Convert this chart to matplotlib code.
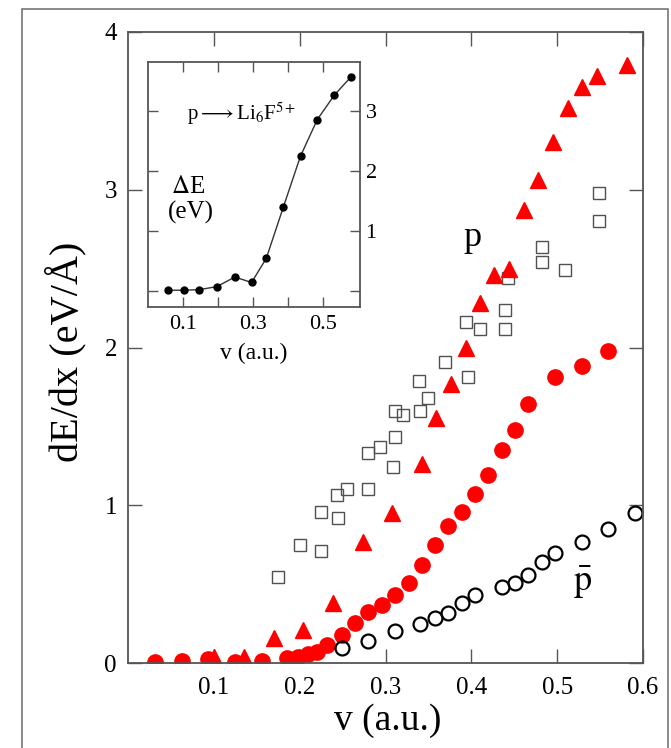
import numpy as np
import matplotlib.pyplot as plt
from matplotlib.patches import Rectangle

plt.rcParams['font.family'] = ['Liberation Serif', 'DejaVu Serif']
plt.rcParams['mathtext.fontset'] = 'stix'

# open squares (p, other calculation)
v_sq = [0.175, 0.200, 0.225, 0.225, 0.245, 0.244, 0.255, 0.280, 0.280, 0.294,
        0.309, 0.311, 0.311, 0.320, 0.340, 0.350, 0.339, 0.369, 0.396, 0.394,
        0.410, 0.439, 0.439, 0.443, 0.482, 0.482, 0.509, 0.549, 0.549]
E_sq = [0.545, 0.75, 0.71, 0.96, 0.92, 1.065, 1.10, 1.10, 1.33, 1.37,
        1.24, 1.43, 1.60, 1.57, 1.60, 1.68, 1.79, 1.91, 1.81, 2.16,
        2.12, 2.24, 2.12, 2.44, 2.64, 2.54, 2.49, 2.98, 2.80]

# filled triangles (p)
v_tri = [0.100, 0.135, 0.170, 0.204, 0.239, 0.274, 0.308, 0.343, 0.359, 0.376,
         0.394, 0.410, 0.426, 0.444, 0.461, 0.478, 0.495, 0.513, 0.529, 0.546, 0.581]
E_tri = [0.04, 0.04, 0.16, 0.21, 0.38, 0.77, 0.95, 1.26, 1.55, 1.77,
         2.00, 2.28, 2.46, 2.50, 2.87, 3.06, 3.30, 3.52, 3.65, 3.72, 3.79]

# filled circles (p)
v_cir = [0.031, 0.063, 0.093, 0.125, 0.156, 0.185, 0.198, 0.210, 0.220, 0.232,
         0.249, 0.264, 0.280, 0.296, 0.311, 0.327, 0.343, 0.358, 0.373, 0.389,
         0.404, 0.419, 0.436, 0.451, 0.466, 0.497, 0.529, 0.559]
E_cir = [0.006, 0.013, 0.025, 0.006, 0.013, 0.03, 0.04, 0.057, 0.07, 0.114,
         0.178, 0.254, 0.323, 0.368, 0.43, 0.51, 0.62, 0.75, 0.87, 0.96,
         1.07, 1.19, 1.35, 1.48, 1.64, 1.81, 1.88, 1.98]

# open circles (antiproton)
v_pbar = [0.249, 0.280, 0.311, 0.340, 0.358, 0.373, 0.389, 0.404, 0.436, 0.451,
          0.466, 0.482, 0.497, 0.529, 0.559, 0.591]
E_pbar = [0.095, 0.14, 0.20, 0.25, 0.285, 0.32, 0.38, 0.43, 0.48, 0.51,
          0.56, 0.64, 0.70, 0.77, 0.85, 0.95]

# inset: p -> Li6F5+ energy
v_in = [0.057, 0.103, 0.147, 0.197, 0.248, 0.296, 0.338, 0.387, 0.436, 0.484, 0.533, 0.580]
dE_in = [0.01, 0.01, 0.02, 0.07, 0.23, 0.14, 0.54, 1.40, 2.25, 2.86, 3.27, 3.57]

W, H = 671, 748
fig = plt.figure(figsize=(W / 100, H / 100), dpi=100)
fig.patches.append(Rectangle((22 / W, -0.01), (668 - 22) / W, 1.01 - 9 / H,
                             transform=fig.transFigure, fill=False,
                             ec='#777777', lw=1.2))

ax = fig.add_axes([128 / W, 1 - 663 / H, 515 / W, 631 / H])
ax.plot(v_sq, E_sq, 's', mfc='none', mec='#505050', ms=9, mew=1.0)
ax.plot(v_tri, E_tri, '^', color='red', ms=11)
ax.plot(v_cir, E_cir, 'o', color='red', ms=11)
ax.plot(v_pbar, E_pbar, 'o', mfc='none', mec='black', ms=10, mew=1.6)

ax.set_xlim(0, 0.6)
ax.set_ylim(0, 4)
ax.set_xticks([0.1, 0.2, 0.3, 0.4, 0.5, 0.6])
ax.set_xticklabels(['0.1', '0.2', '0.3', '0.4', '0.5', '0.6'])
ax.set_yticks([0, 1, 2, 3, 4])
ax.tick_params(direction='in', top=True, right=True, length=10, width=1.0,
               color='#555555', labelsize=18)
ax.tick_params(axis='x', pad=10)
ax.tick_params(axis='y', pad=8)
for s in ax.spines.values():
    s.set_color('#555555')
    s.set_linewidth(1.3)

fig.text(66 / W, 1 - 352 / H, 'dE/dx (eV/Å)', rotation=90, ha='center',
         va='center', fontsize=29)
fig.text(388 / W, 1 - 721 / H, 'v (a.u.)', ha='center', va='center', fontsize=27)

ax.text(0.401, 2.70, 'p', fontsize=26, ha='center', va='center')
ax.text(0.530, 0.51, r'$\bar{\mathrm{p}}$', fontsize=26, ha='center', va='center')

# inset
axi = fig.add_axes([148 / W, 1 - 307 / H, 212 / W, 245 / H])
axi.plot(v_in, dE_in, '-', color='#333333', lw=1.0)
axi.plot(v_in, dE_in, 'o', color='black', ms=5)
axi.set_xlim(0, 0.606)
axi.set_ylim(-0.27, 3.82)
axi.set_xticks([0.1, 0.2, 0.3, 0.4, 0.5])
axi.set_xticklabels(['0.1', '', '0.3', '', '0.5'])
axi.set_yticks([0, 1, 2, 3])
axi.set_yticklabels(['', '1', '2', '3'])
axi.tick_params(direction='in', top=True, right=True, left=True, length=7,
                width=1.0, color='#555555', labelsize=16,
                labelleft=False, labelright=True)
axi.tick_params(axis='x', pad=6)
axi.tick_params(axis='y', pad=4)
for s in axi.spines.values():
    s.set_color('#555555')
    s.set_linewidth(1.3)

axi.text(0.184, 0.79, r'p$\longrightarrow$Li$_6$F$^{5+}$', transform=axi.transAxes,
         fontsize=15, ha='left', va='center')
axi.text(0.19, 0.49, r'$\Delta$E', transform=axi.transAxes, fontsize=18,
         ha='center', va='center')
axi.text(0.20, 0.385, '(eV)', transform=axi.transAxes, fontsize=18,
         ha='center', va='center')
fig.text(254 / W, 1 - 353 / H, 'v (a.u.)', ha='center', va='center', fontsize=17)

fig.savefig('out.png', dpi=100)
